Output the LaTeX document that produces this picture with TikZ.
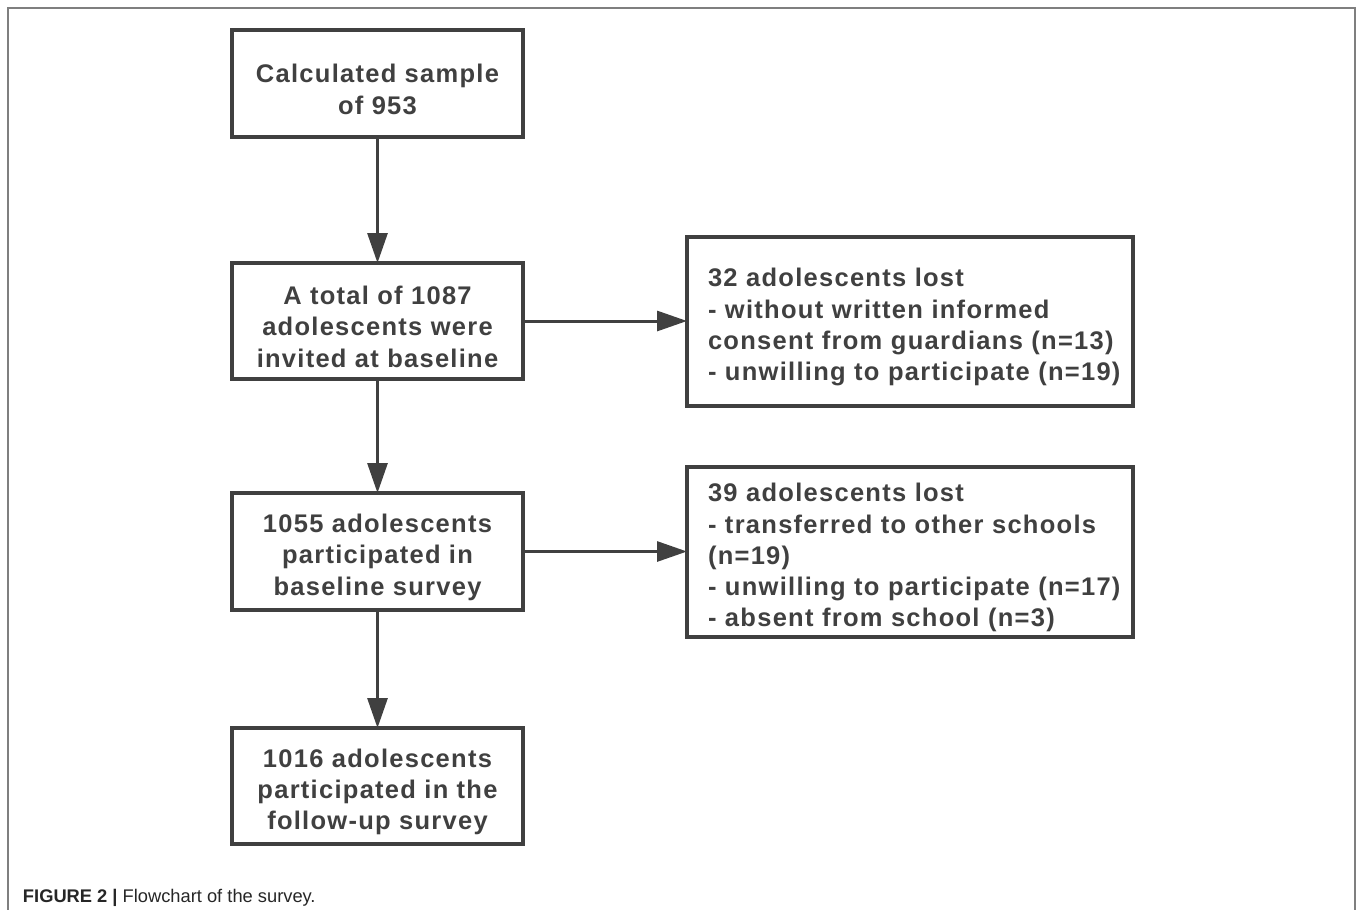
\documentclass[tikz,border=0pt]{standalone}
\usepackage{fontspec}
\setmainfont{Liberation Sans}
\newfontfamily\boxfont[LetterSpace=5]{Liberation Sans}
\usetikzlibrary{arrows.meta}
\definecolor{ink}{HTML}{404040}
\definecolor{framegray}{HTML}{7F7F7F}
\newcommand\oneline[1]{\mbox{#1}}
\newcommand\topstrut{\rule{0pt}{30pt}}
\tikzset{
  every node/.style={inner sep=0pt, outer sep=0pt},
  boxtext/.style={font=\boxfont\bfseries\fontsize{25.5}{31.3}\selectfont, text=ink},
  leftbox/.style={boxtext, draw=ink, line width=3.3pt, rectangle, minimum width=291pt, align=center},
  rightbox/.style={boxtext, draw=ink, line width=3.3pt, rectangle, minimum width=446pt, text width=404pt, inner xsep=21pt, align=left},
  flow/.style={draw=ink, line width=3pt, -{Triangle[length=30pt,width=20pt]}, color=ink},
}
\begin{document}
\begin{tikzpicture}[x=1pt, y=-1pt]
\useasboundingbox (0,0) rectangle (1357,910);
\draw[framegray, line width=2pt] (8,912) -- (8,8) -- (1355,8) -- (1355,912);

\node[leftbox, minimum height=107pt] (b1) at (377.5,83.5) {\topstrut Calculated sample\\of 953};
\node[leftbox, minimum height=116pt] (b2) at (377.5,321) {\topstrut A total of 1087\\adolescents were\\invited at baseline};
\node[leftbox, minimum height=117pt] (b3) at (377.5,551.5) {\topstrut 1055 adolescents\\participated in\\baseline survey};
\node[leftbox, minimum height=116pt] (b4) at (377.5,786) {\topstrut 1016 adolescents\\participated in the\\follow-up survey};

\node[rightbox, minimum height=169pt] (r1) at (910,321.5) {\topstrut\oneline{32 adolescents lost}\\\oneline{- without written informed}\\\oneline{consent from guardians (n=13)}\\\oneline{- unwilling to participate (n=19)}};
\node[rightbox, minimum height=170pt] (r2) at (910,552) {\topstrut\oneline{39 adolescents lost}\\\oneline{- transferred to other schools}\\\oneline{(n=19)}\\\oneline{- unwilling to participate (n=17)}\\\oneline{- absent from school (n=3)}};

\draw[flow] (b1.south) -- (b2.north);
\draw[flow] (b2.south) -- (b3.north);
\draw[flow] (b3.south) -- (b4.north);
\draw[flow] (b2.east) -- (r1.west |- b2.east);
\draw[flow] (b3.east) -- (r2.west |- b3.east);

\node[anchor=base west, font=\fontsize{18.3}{22}\selectfont, text=black!85] (cap) at (23,902) {\textbf{FIGURE 2 |} Flowchart of the survey.};
\end{tikzpicture}
\end{document}
